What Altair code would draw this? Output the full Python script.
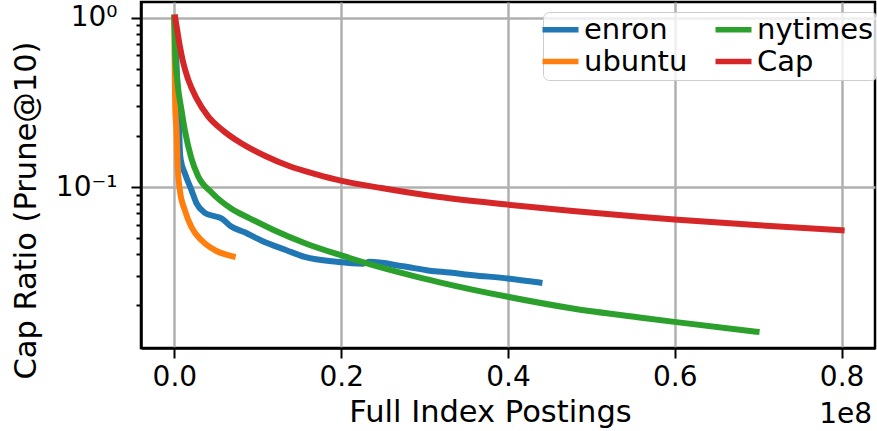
import altair as alt
import pandas as pd

# ---- data (x = postings, y = cap ratio) ----
enron_x = [0, 180000, 359000, 479000, 575000, 659000, 778000, 1257000, 2060000, 2659000,
           3653000, 4611000, 5689000, 6766000, 8443000, 10480000, 13440000, 15630000,
           19430000, 22610000, 23410000, 27400000, 30600000, 33000000, 35780000,
           39980000, 43770000]
enron_y = [1.0, 0.641, 0.4097, 0.2838, 0.2163, 0.1648, 0.1439, 0.1206, 0.0957, 0.0802,
           0.0705, 0.0677, 0.0652, 0.0587, 0.0541, 0.0482, 0.0424, 0.0387,
           0.0362, 0.0353, 0.0362, 0.0341, 0.0321, 0.0313, 0.0302,
           0.0289, 0.0273]

ubuntu_x = [0, 36000, 120000, 263000, 383000, 659000, 1257000, 2060000, 3257000, 4850000, 7000000]
ubuntu_y = [1.0, 0.56, 0.2838, 0.2163, 0.1381, 0.0957, 0.073, 0.0579, 0.0485, 0.0424, 0.039]

nytimes_x = [0, 84000, 383000, 862000, 1257000, 2036000, 2850000, 4491000, 6850000, 9040000,
             11830000, 15830000, 19940000, 23810000, 27810000, 31800000, 39980000,
             47760000, 55750000, 59940000, 69800000]
nytimes_y = [1.0, 0.641, 0.4097, 0.2838, 0.2163, 0.1479, 0.1158, 0.0926, 0.0745, 0.0654,
             0.056, 0.0463, 0.0396, 0.0346, 0.0306, 0.0274, 0.0225,
             0.0192, 0.017, 0.016, 0.0140]

cap_x = [100000, 383000, 659000, 1054000, 1653000, 2659000, 4048000, 5808000, 7641000, 10840000,
         13830000, 17030000, 19940000, 25000000, 31800000, 39980000, 47760000, 55750000,
         59940000, 70120000, 80000000]
cap_y = [1.0, 0.819, 0.677, 0.545, 0.4325, 0.3341, 0.2617, 0.2163, 0.1863, 0.153,
         0.1327, 0.119, 0.1092, 0.0984, 0.0873, 0.0788, 0.0722, 0.0668,
         0.0644, 0.0595, 0.0556]

series_names = ["enron", "ubuntu", "nytimes", "Cap"]
series_colors = ["#1f77b4", "#ff7f0e", "#2ca02c", "#d62728"]

x_ticks = [0, 20000000, 40000000, 60000000, 80000000]
y_ticks = [0.02, 0.03, 0.04, 0.05, 0.06, 0.07, 0.08, 0.09,
           0.2, 0.3, 0.4, 0.5, 0.6, 0.7, 0.8, 0.9, 0.1, 1.0]

frames = []
for name, xs, ys in [("enron", enron_x, enron_y), ("ubuntu", ubuntu_x, ubuntu_y),
                     ("nytimes", nytimes_x, nytimes_y), ("Cap", cap_x, cap_y)]:
    frames.append(pd.DataFrame({"series": name, "x": xs, "y": ys, "i": range(len(xs))}))
df = pd.concat(frames, ignore_index=True)

FONT = "DejaVu Sans"
major_test = "datum.value == 1 || abs(datum.value - 0.1) < 1e-9"

x_enc = alt.X(
    "x:Q",
    scale=alt.Scale(domain=[-4000000, 84000000], nice=False, zero=False),
    axis=alt.Axis(
        values=x_ticks,
        labelExpr="format(datum.value / 1e8, '.1f')",
        tickSize=10,
        labelPadding=5,
        labelFlush=False,
        labelOverlap=False,
        title="Full Index Postings",
        titleX=349,
        titleY=73,
        titleAlign="center",
        titleBaseline="alphabetic",
    ),
)
y_enc = alt.Y(
    "y:Q",
    scale=alt.Scale(type="log", domain=[0.01122, 1.238], nice=False),
    axis=alt.Axis(
        values=y_ticks,
        labelExpr="datum.value == 1 ? '10⁰' : (abs(datum.value - 0.1) < 1e-9 ? '10⁻¹' : '')",
        tickSize={"condition": {"test": major_test, "value": 10}, "value": 5},
        gridOpacity={"condition": {"test": major_test, "value": 1}, "value": 0},
        labelPadding=14,
        labelOverlap=False,
        labelFlush=False,
        title="Cap Ratio (Prune@10)",
        titleX=-106,
        titleY=208,
        titleAlign="center",
        titleBaseline="alphabetic",
        titleAngle=270,
    ),
)
color_enc = alt.Color(
    "series:N",
    scale=alt.Scale(domain=series_names, range=series_colors),
    legend=alt.Legend(
        title=None,
        orient="none",
        legendX=402,
        legendY=10,
        direction="vertical",
        columns=2,
        symbolType="M-2,0H2",
        symbolSize=324,
        symbolStrokeWidth=5.5,
        symbolOpacity=1,
        labelFontSize=29,
        labelFont=FONT,
        labelColor="black",
        labelOffset=9,
        columnPadding=16,
        rowPadding=2,
        padding=3,
        strokeColor="#cccccc",
        cornerRadius=6,
        fillColor="rgba(255,255,255,0.8)",
    ),
)

layers = []
for name in series_names:
    layers.append(
        alt.Chart(df)
        .transform_filter(alt.datum.series == name)
        .mark_line(strokeWidth=6, strokeCap="square", strokeJoin="round", interpolate="monotone")
        .encode(x=x_enc, y=y_enc, color=color_enc, order="i:Q")
    )

offset_text = (
    alt.Chart(pd.DataFrame({"t": ["1e8"]}))
    .mark_text(align="right", baseline="alphabetic", fontSize=28, font=FONT, color="black")
    .encode(text="t:N", x=alt.value(731), y=alt.value(346 + 75))
)

chart = (
    alt.layer(*layers, offset_text)
    .properties(
        width=734,
        height=346,
        autosize=alt.AutoSizeParams(type="none"),
        padding={"left": 141, "top": 2, "right": 2, "bottom": 83},
    )
    .configure(font=FONT)
    .configure_view(stroke="black", strokeWidth=2.5)
    .configure_axis(
        labelFont=FONT,
        titleFont=FONT,
        labelFontSize=28,
        titleFontSize=30.5,
        titleFontWeight="normal",
        labelColor="black",
        titleColor="black",
        tickColor="black",
        tickWidth=2,
        domainColor="black",
        domainWidth=2.5,
        gridColor="#b0b0b0",
        gridWidth=2.5,
    )
)

chart.save("out.html", embed_options={"renderer": "svg", "actions": False})
